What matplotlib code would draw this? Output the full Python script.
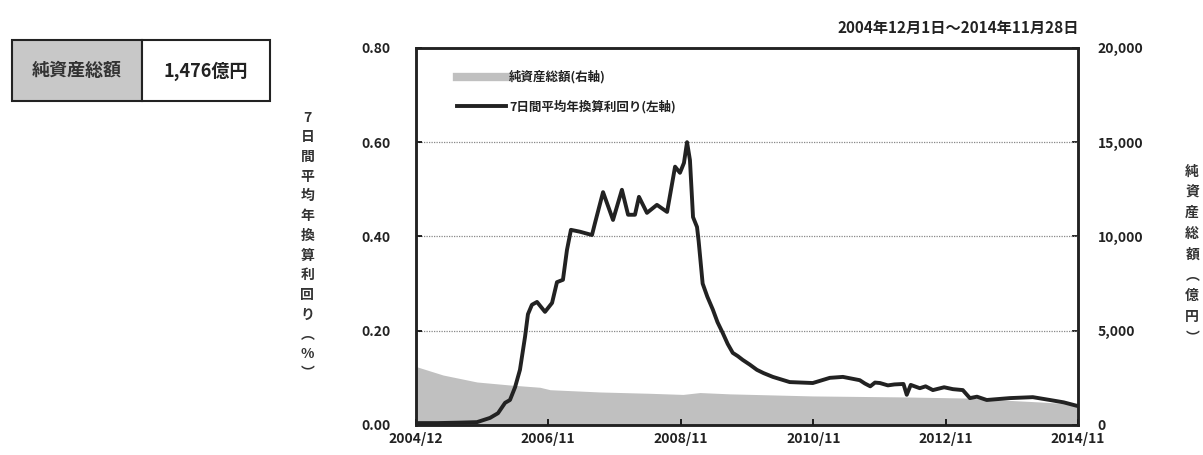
"""
net assets and 7-day yield chart
"""
import matplotlib
matplotlib.use("Agg")
import matplotlib.pyplot as plt
from matplotlib.patches import Rectangle
import numpy as np

plt.rcParams['font.family'] = ['Noto Sans CJK JP', 'DejaVu Sans']

# 7日間平均年換算利回り (%)
yield_dates = ['2004-12-01', '2005-04-01', '2005-08-01', '2005-11-02', '2006-01-13',
               '2006-02-26', '2006-04-06', '2006-05-03', '2006-05-31', '2006-06-27',
               '2006-07-25', '2006-08-10', '2006-09-01', '2006-09-29', '2006-11-12',
               '2006-12-21', '2007-01-17', '2007-02-19', '2007-03-13', '2007-04-04',
               '2007-05-24', '2007-07-29', '2007-08-15', '2007-09-28', '2007-11-22',
               '2008-01-10', '2008-02-13', '2008-03-22', '2008-04-13', '2008-05-27',
               '2008-07-21', '2008-09-15', '2008-10-29', '2008-11-25', '2008-12-17',
               '2009-01-03', '2009-01-19', '2009-02-05', '2009-02-27', '2009-03-08',
               '2009-03-30', '2009-04-25', '2009-05-25', '2009-06-20', '2009-07-19',
               '2009-08-15', '2009-09-12', '2009-10-10', '2009-11-06', '2009-12-15',
               '2010-01-23', '2010-03-01', '2010-04-21', '2010-07-23', '2010-11-27',
               '2011-03-01', '2011-05-12', '2011-08-13', '2011-09-10', '2011-10-10',
               '2011-11-05', '2011-12-02', '2012-01-15', '2012-02-20', '2012-04-10',
               '2012-04-28', '2012-05-20', '2012-07-09', '2012-08-10', '2012-09-19',
               '2012-11-20', '2013-01-07', '2013-03-03', '2013-04-11', '2013-05-20',
               '2013-07-13', '2013-11-17', '2014-03-24', '2014-06-26', '2014-09-10',
               '2014-11-28']
yield_pct = [0.004, 0.004, 0.005, 0.006, 0.015,
             0.025, 0.047, 0.053, 0.080, 0.117,
             0.187, 0.235, 0.255, 0.261, 0.240,
             0.259, 0.303, 0.308, 0.371, 0.414,
             0.410, 0.403, 0.429, 0.494, 0.435,
             0.499, 0.446, 0.446, 0.484, 0.450,
             0.467, 0.452, 0.548, 0.535, 0.556,
             0.600, 0.562, 0.441, 0.420, 0.390,
             0.300, 0.272, 0.245, 0.218, 0.195,
             0.172, 0.153, 0.146, 0.138, 0.128,
             0.117, 0.110, 0.102, 0.091, 0.089,
             0.100, 0.102, 0.095, 0.088, 0.082,
             0.090, 0.089, 0.084, 0.086, 0.087,
             0.064, 0.085, 0.078, 0.082, 0.074,
             0.080, 0.076, 0.074, 0.057, 0.060,
             0.053, 0.057, 0.059, 0.053, 0.048,
             0.040]

# 純資産総額 (億円)
asset_dates = ['2004-12-01', '2005-04-29', '2005-11-02', '2006-05-03', '2006-10-15',
               '2006-12-10', '2007-09-11', '2008-06-13', '2008-12-12', '2009-03-15',
               '2009-08-27', '2010-11-27', '2012-03-21', '2013-03-25', '2013-09-23',
               '2014-05-02', '2014-11-28']
assets = [3100, 2650, 2280, 2120, 2000,
          1870, 1750, 1680, 1620, 1720,
          1650, 1540, 1490, 1430, 1330,
          1220, 1100]

tick_dates = ['2004-12-01', '2006-11-30', '2008-11-30', '2010-11-30', '2012-11-30', '2014-11-28']
tick_labels = ['2004/12', '2006/11', '2008/11', '2010/11', '2012/11', '2014/11']

yd = np.array(yield_dates, dtype='datetime64[D]')
ad = np.array(asset_dates, dtype='datetime64[D]')
td = np.array(tick_dates, dtype='datetime64[D]')

fig = plt.figure(figsize=(12.03, 4.55), dpi=100)
ax = fig.add_axes([0.3458, 0.066, 0.5503, 0.8287])
ax2 = ax.twinx()

ax2.fill_between(ad, 0, assets, color='#c0c0c0', lw=0)
ax.plot(yd, yield_pct, color='#222222', lw=2.8, solid_joinstyle='round')

ax.set_zorder(ax2.get_zorder() + 1)
ax.patch.set_visible(False)

ax.set_xlim(td[0], td[-1])
ax.set_ylim(0, 0.8)
ax2.set_ylim(0, 20000)
ax.set_xticks(td)
ax.set_xticklabels(tick_labels)
ax.set_yticks([0, 0.2, 0.4, 0.6, 0.8])
ax.set_yticklabels(['0.00', '0.20', '0.40', '0.60', '0.80'])
ax2.set_yticks([0, 5000, 10000, 15000, 20000])
ax2.set_yticklabels(['0', '5,000', '10,000', '15,000', '20,000'])

for y in [0.2, 0.4, 0.6]:
    ax.axhline(y, color='#888888', lw=0.9, ls=(0, (1, 1)), zorder=0)

ax.tick_params(axis='x', direction='in', length=4, width=1.2, labelsize=10, pad=5)
ax.tick_params(axis='y', direction='in', length=4, width=1.2, labelsize=10, pad=18)
ax2.tick_params(axis='y', direction='in', length=4, width=1.2, labelsize=10, pad=14)
for a in (ax, ax2):
    for lab in a.get_xticklabels() + a.get_yticklabels():
        lab.set_fontweight('bold')
        lab.set_color('#222222')
    for s in a.spines.values():
        s.set_linewidth(1.8)
        s.set_color('#222222')

# legend
h1, = ax.plot([], [], color='#c0c0c0', lw=6)
h2, = ax.plot([], [], color='#222222', lw=2.8)
leg = ax.legend([h1, h2], ['純資産総額(右軸)', '7日間平均年換算利回り(左軸)'],
                loc='upper left', bbox_to_anchor=(0.045, 0.97), frameon=False,
                fontsize=9, handlelength=3.9, handletextpad=0.25, labelspacing=1.25)
for t in leg.get_texts():
    t.set_fontweight('bold')
    t.set_color('#222222')

# date range
fig.text(0.897, 0.938, '2004年12月1日～2014年11月28日', ha='right', va='center',
         fontsize=11, fontweight='bold', color='#222222')

# axis labels (vertical)
fig.text(0.2555, 0.46, '\n'.join('7日間平均年換算利回り︵%︶'), ha='center', va='center',
         fontsize=10, linespacing=1.52, fontweight='bold', color='#333333')
fig.text(0.991, 0.44, '\n'.join('純資産総額︵億円︶'), ha='center', va='center',
         fontsize=10, linespacing=1.62, fontweight='bold', color='#333333')

# net assets box
fig.patches.append(Rectangle((12 / 1203, 1 - 101 / 455), 130 / 1203, 61 / 455,
                             transform=fig.transFigure, facecolor='#c8c8c8',
                             edgecolor='#222222', lw=1.5))
fig.patches.append(Rectangle((142 / 1203, 1 - 101 / 455), 128 / 1203, 61 / 455,
                             transform=fig.transFigure, facecolor='white',
                             edgecolor='#222222', lw=1.5))
fig.text(77 / 1203, 1 - 71 / 455, '純資産総額', ha='center', va='center',
         fontsize=13, fontweight='bold', color='#333333')
fig.text(206 / 1203, 1 - 71 / 455, '1,476億円', ha='center', va='center',
         fontsize=13, fontweight='bold', color='#222222')

plt.savefig('out.png', dpi=100)
